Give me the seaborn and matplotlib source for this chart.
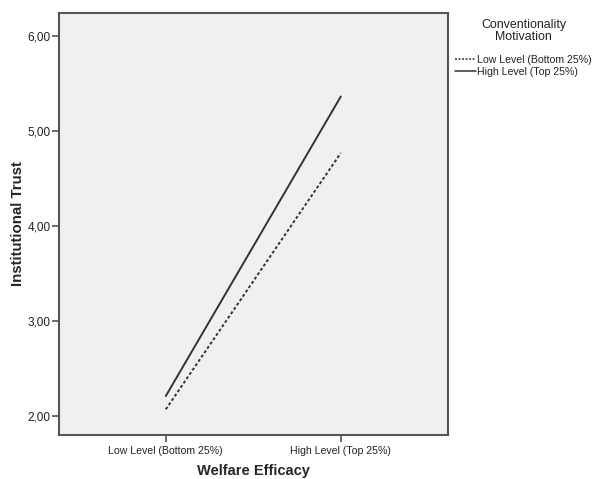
import matplotlib
matplotlib.use("Agg")
import matplotlib.pyplot as plt
import seaborn as sns
import pandas as pd
from matplotlib.lines import Line2D

x_categories = ["Low Level (Bottom 25%)", "High Level (Top 25%)"]
groups = ["Low Level (Bottom 25%)", "High Level (Top 25%)"]
low_motivation = [2.07, 4.77]
high_motivation = [2.21, 5.365]
y_ticks = [2, 3, 4, 5, 6]
y_tick_labels = ["2,00", "3,00", "4,00", "5,00", "6,00"]

rows = []
for g, vals in zip(groups, [low_motivation, high_motivation]):
    for i, v in enumerate(vals):
        rows.append({"x": i, "y": v, "group": g})
df = pd.DataFrame(rows)

sns.set_style("white")
plt.rcParams["font.family"] = ["Liberation Sans", "DejaVu Sans"]

fig = plt.figure(figsize=(5.95, 4.79), dpi=100)
ax = fig.add_axes([0.0992, 0.0919, 0.653, 0.882])
ax.set_facecolor("#f0f0f0")

sns.lineplot(data=df, x="x", y="y", hue="group", style="group",
             hue_order=groups, style_order=groups,
             palette=["#333333", "#333333"],
             dashes={groups[0]: (1.5, 1.2), groups[1]: ""},
             linewidth=1.4, ax=ax, legend=False)

ax.set_xlim(-0.61, 1.61)
ax.set_ylim(1.8, 6.25)
ax.set_xticks([0, 1])
ax.set_xticklabels(x_categories, fontsize=7.6)
ax.set_yticks(y_ticks)
ax.set_yticklabels(y_tick_labels, fontsize=8.5)
ax.tick_params(axis="both", direction="out", length=5, width=1.2, color="#555555",
               labelcolor="#222222", bottom=True, left=True)
ax.tick_params(axis="y", pad=1)
ax.tick_params(axis="x", pad=3)
for s in ax.spines.values():
    s.set_color("#555555")
    s.set_linewidth(1.5)

ax.set_xlabel("Welfare Efficacy", fontsize=10.5, fontweight="bold", labelpad=6)
ax.set_ylabel("Institutional Trust", fontsize=10.8, fontweight="bold", labelpad=2)

fig.text(523.5 / 595, 1 - 19 / 479, "Conventionality\nMotivation",
         ha="center", va="top", multialignment="center",
         fontsize=8.9, color="#222222", linespacing=1.0)

handles = [Line2D([], [], color="#333333", linewidth=1.1, dashes=(1.3, 1.0)),
           Line2D([], [], color="#333333", linewidth=1.1)]
leg = fig.legend(handles, groups, loc="upper left",
                 bbox_to_anchor=(455 / 595, 1 - 55 / 479),
                 frameon=False, fontsize=7.6,
                 handlelength=2.0, handletextpad=0.1, labelspacing=0.15,
                 borderaxespad=0, borderpad=0)
for t in leg.get_texts():
    t.set_color("#222222")

fig.savefig("out.png", dpi=100)
